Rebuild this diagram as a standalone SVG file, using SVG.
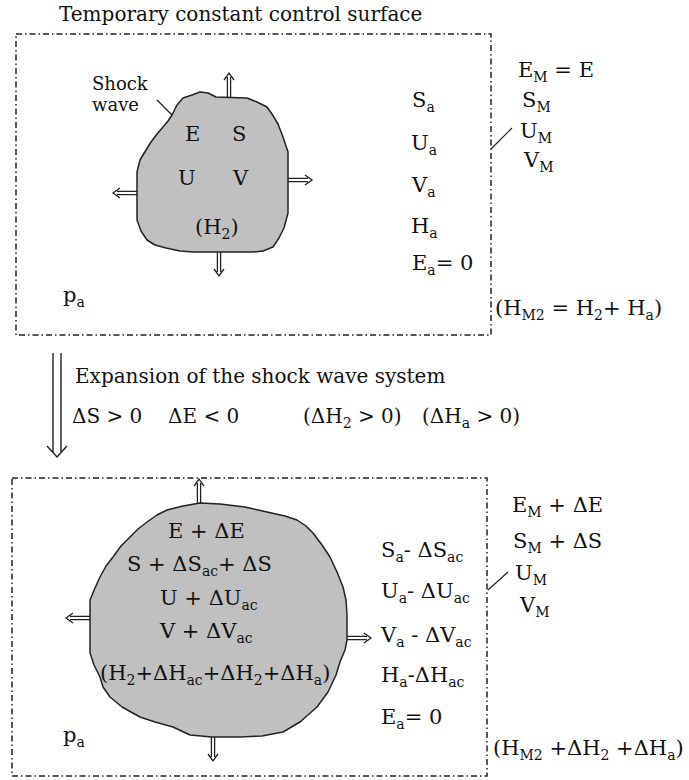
<svg xmlns="http://www.w3.org/2000/svg" width="689" height="780" viewBox="0 0 689 780">
<style>
.t{font-family:"DejaVu Serif","Liberation Serif",serif;font-size:21px;fill:#111}
.m{font-size:20px}
.sm{font-size:18px}
.s{font-size:14px}
.box{fill:none;stroke:#222;stroke-width:1.5;stroke-dasharray:6 3 1.5 3}
.blob{fill:#c0c0c0;stroke:#222;stroke-width:1.5;stroke-linejoin:round}
.ln{fill:none;stroke:#222;stroke-width:1.2}
</style>
<defs>
<g id="da"><path d="M0,-1.6H20M0,1.6H20M17,-5L24,0L17,5" fill="none" stroke="#222" stroke-width="1.3"/></g>
</defs>
<rect width="689" height="780" fill="#fff"/>

<g id="title"><text class="t m" x="59" y="21">Temporary constant control surface</text></g>

<g id="top-surface">
<rect class="box" x="16" y="34" width="475" height="301"/>
<text class="t" x="63" y="302">p<tspan class="s" dy="5">a</tspan></text>
<text class="t" x="412" y="107">S<tspan class="s" dy="5">a</tspan></text>
<text class="t" x="411" y="150">U<tspan class="s" dy="5">a</tspan></text>
<text class="t" x="412" y="192">V<tspan class="s" dy="5">a</tspan></text>
<text class="t" x="411" y="233">H<tspan class="s" dy="5">a</tspan></text>
<text class="t" x="412" y="270">E<tspan class="s" dy="5">a</tspan><tspan dy="-5">= 0</tspan></text>
</g>

<g id="top-shock">
<path class="blob" d="M172,115 L177,105 183,98 192,95 200,92 208,93 216,97 247,98 257,102 267,107 272,114 278,124 283,137 288,152 288,213 284,228 279,238 273,247 263,251 253,252 193,252 180,251 166,248 155,245 147,240 141,231 137,220 137,172 140,160 146,150 151,142 157,134 163,127 168,121 Z"/>
<text class="t" x="185" y="141">E</text>
<text class="t" x="232" y="141">S</text>
<text class="t" x="178" y="185">U</text>
<text class="t" x="233" y="185">V</text>
<text class="t" x="195" y="234">(H<tspan class="s" dy="5">2</tspan><tspan dy="-5">)</tspan></text>
</g>

<g id="shock-label">
<text class="t sm" x="92" y="90">Shock</text>
<text class="t sm" x="92" y="111">wave</text>
</g>

<g id="top-outside">
<text class="t" x="518" y="77">E<tspan class="s" dy="5">M</tspan><tspan dy="-5"> = E</tspan></text>
<text class="t" x="522" y="107">S<tspan class="s" dy="5">M</tspan></text>
<text class="t" x="520" y="138">U<tspan class="s" dy="5">M</tspan></text>
<text class="t" x="524" y="167">V<tspan class="s" dy="5">M</tspan></text>
<text class="t" x="495" y="315">(H<tspan class="s" dy="5">M2</tspan><tspan dy="-5"> = H</tspan><tspan class="s" dy="5">2</tspan><tspan dy="-5">+ H</tspan><tspan class="s" dy="5">a</tspan><tspan dy="-5">)</tspan></text>
</g>

<g id="process">
<text class="t m" x="75" y="383">Expansion of the shock wave system</text>
<text class="t m" x="72" y="423">ΔS &gt; 0</text>
<text class="t m" x="168" y="423">ΔE &lt; 0</text>
<text class="t m" x="303" y="423">(ΔH<tspan class="s" dy="5">2</tspan><tspan dy="-5"> &gt; 0)</tspan></text>
<text class="t m" x="422" y="423">(ΔH<tspan class="s" dy="5">a</tspan><tspan dy="-5"> &gt; 0)</tspan></text>
</g>

<g id="bottom-surface">
<rect class="box" x="12" y="478" width="475" height="298"/>
<text class="t" x="63" y="742">p<tspan class="s" dy="5">a</tspan></text>
<text class="t" x="381" y="557">S<tspan class="s" dy="5">a</tspan><tspan dy="-5">- ΔS</tspan><tspan class="s" dy="5">ac</tspan></text>
<text class="t" x="381" y="598">U<tspan class="s" dy="5">a</tspan><tspan dy="-5">- ΔU</tspan><tspan class="s" dy="5">ac</tspan></text>
<text class="t" x="381" y="642">V<tspan class="s" dy="5">a</tspan><tspan dy="-5"> - ΔV</tspan><tspan class="s" dy="5">ac</tspan></text>
<text class="t" x="381" y="682">H<tspan class="s" dy="5">a</tspan><tspan dy="-5">-ΔH</tspan><tspan class="s" dy="5">ac</tspan></text>
<text class="t" x="381" y="724">E<tspan class="s" dy="5">a</tspan><tspan dy="-5">= 0</tspan></text>
</g>

<g id="bottom-shock">
<path class="blob" d="M200,503 L220,504 245,507 267,512 285,516 297,520 306,526 313,533 322,545 330,557 337,572 343,587 346,600 347,615 347,640 345,650 340,662 336,675 328,692 317,707 300,722 283,732 262,736 240,737 212,737 190,735 173,727 155,722 140,717 122,707 110,697 103,687 100,677 94,665 90,653 90,600 95,588 100,577 106,566 113,557 121,546 130,537 138,529 147,522 157,515 167,510 183,506 Z"/>
<text class="t" x="168" y="538">E + ΔE</text>
<text class="t" x="127" y="571">S + ΔS<tspan class="s" dy="5">ac</tspan><tspan dy="-5">+ ΔS</tspan></text>
<text class="t" x="160" y="605">U + ΔU<tspan class="s" dy="5">ac</tspan></text>
<text class="t" x="160" y="638">V + ΔV<tspan class="s" dy="5">ac</tspan></text>
<text class="t" x="100" y="680">(H<tspan class="s" dy="5">2</tspan><tspan dy="-5">+ΔH</tspan><tspan class="s" dy="5">ac</tspan><tspan dy="-5">+ΔH</tspan><tspan class="s" dy="5">2</tspan><tspan dy="-5">+ΔH</tspan><tspan class="s" dy="5">a</tspan><tspan dy="-5">)</tspan></text>
</g>

<g id="bottom-outside">
<text class="t" x="512" y="512">E<tspan class="s" dy="5">M</tspan><tspan dy="-5"> + ΔE</tspan></text>
<text class="t" x="513" y="548">S<tspan class="s" dy="5">M</tspan><tspan dy="-5"> + ΔS</tspan></text>
<text class="t" x="515" y="580">U<tspan class="s" dy="5">M</tspan></text>
<text class="t" x="520" y="612">V<tspan class="s" dy="5">M</tspan></text>
<text class="t" x="493" y="755">(H<tspan class="s" dy="5">M2</tspan><tspan dy="-5"> +ΔH</tspan><tspan class="s" dy="5">2</tspan><tspan dy="-5"> +ΔH</tspan><tspan class="s" dy="5">a</tspan><tspan dy="-5">)</tspan></text>
</g>

<g id="connectors">
<line class="ln" x1="157" y1="100" x2="172" y2="115"/>
<line class="ln" x1="512" y1="128" x2="491" y2="149"/>
<line class="ln" x1="508" y1="572" x2="488" y2="590"/>
<use href="#da" transform="translate(229,97) rotate(-90)"/>
<use href="#da" transform="translate(288,180)"/>
<use href="#da" transform="translate(137,193) rotate(180)"/>
<use href="#da" transform="translate(219,252) rotate(90)"/>
<use href="#da" transform="translate(199,503) rotate(-90)"/>
<use href="#da" transform="translate(347,638)"/>
<use href="#da" transform="translate(90,618) rotate(180)"/>
<use href="#da" transform="translate(213,737) rotate(90)"/>
<path d="M53,353V452M61,353V452M47,446L57,457L67,446" fill="none" stroke="#222" stroke-width="1.4"/>
</g>
</svg>
